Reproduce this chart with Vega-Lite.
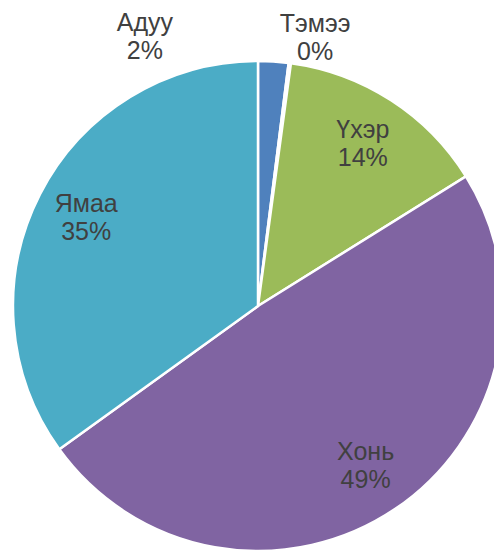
{
  "$schema": "https://vega.github.io/schema/vega-lite/v6.json",
  "width": 494,
  "height": 552,
  "autosize": "none",
  "padding": 0,
  "background": "white",
  "config": {"view": {"stroke": null}},
  "data": {
    "values": [
      {"animal": "Адуу", "value": 2, "label": "Адуу\n2%", "i": 1},
      {"animal": "Тэмээ", "value": 0.15, "label": "Тэмээ\n0%", "i": 2},
      {"animal": "Үхэр", "value": 14, "label": "Үхэр\n14%", "i": 3},
      {"animal": "Хонь", "value": 49, "label": "Хонь\n49%", "i": 4},
      {"animal": "Ямаа", "value": 35, "label": "Ямаа\n35%", "i": 5}
    ]
  },
  "encoding": {
    "theta": {"field": "value", "type": "quantitative", "stack": true},
    "order": {"field": "i", "type": "quantitative"}
  },
  "layer": [
    {
      "mark": {"type": "arc", "x": 258, "y": 306, "outerRadius": 245, "stroke": "white", "strokeWidth": 2.5},
      "encoding": {
        "color": {
          "field": "animal",
          "type": "nominal",
          "scale": {
            "domain": ["Адуу", "Тэмээ", "Үхэр", "Хонь", "Ямаа"],
            "range": ["#4F81BD", "#F79646", "#9BBB59", "#8064A2", "#4BACC6"]
          },
          "legend": null
        }
      }
    },
    {
      "mark": {"type": "text", "x": 258, "y": 306, "radius": 193, "dy": -14, "font": "Liberation Sans", "fontSize": 25, "lineHeight": 28, "lineBreak": "\n", "color": "#404040", "align": "center", "baseline": "middle"},
      "encoding": {
        "text": {"condition": {"test": "datum.value >= 10", "field": "label"}, "value": ""}
      }
    },
    {
      "mark": {"type": "text", "x": 258, "y": 306, "radius": 270, "dx": -130, "dy": -14, "font": "Liberation Sans", "fontSize": 25, "lineHeight": 28, "lineBreak": "\n", "color": "#404040", "align": "center", "baseline": "middle"},
      "encoding": {
        "text": {"condition": {"test": "datum.animal === 'Адуу'", "field": "label"}, "value": ""}
      }
    },
    {
      "mark": {"type": "text", "x": 258, "y": 306, "radius": 270, "dx": 22, "dy": -14, "font": "Liberation Sans", "fontSize": 25, "lineHeight": 28, "lineBreak": "\n", "color": "#404040", "align": "center", "baseline": "middle"},
      "encoding": {
        "text": {"condition": {"test": "datum.animal === 'Тэмээ'", "field": "label"}, "value": ""}
      }
    }
  ]
}
